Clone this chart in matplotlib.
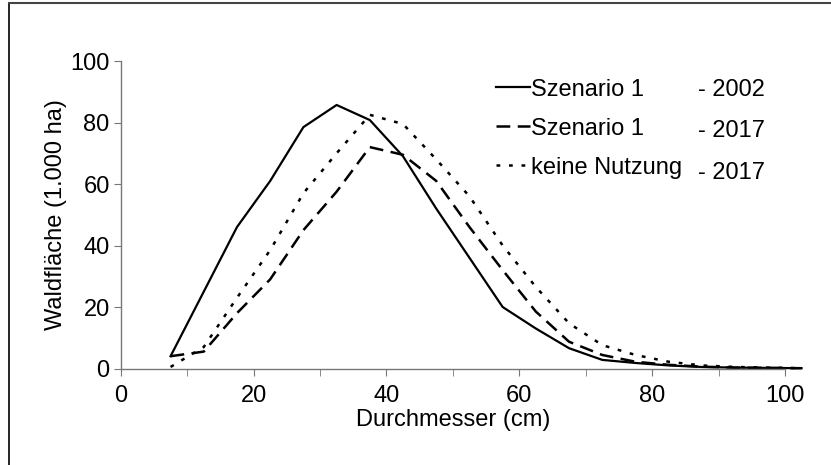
import matplotlib
matplotlib.use("Agg")
import matplotlib.pyplot as plt
from matplotlib.lines import Line2D

plt.rcParams["font.family"] = ["Liberation Sans", "DejaVu Sans"]

# Durchmesserklassen (cm), Klassenmitte
durchmesser = [7.5, 12.5, 17.5, 22.5, 27.5, 32.5, 37.5, 42.5, 47.5, 52.5,
               57.5, 62.5, 67.5, 72.5, 77.5, 82.5, 87.5, 92.5, 97.5, 102.5]

# Waldfläche (1.000 ha)
sz1_2002 = [4, 25, 46, 61, 78.5, 85.7, 80.8, 69, 52, 36, 20, 13, 6.6, 2.8, 1.8,
            1.0, 0.5, 0.3, 0.2, 0.1]
sz1_2017 = [4, 5.5, 18, 29, 45, 57.5, 72, 69.5, 61, 46, 32, 18.5, 8.7, 4.4, 2.2,
            1.2, 0.6, 0.3, 0.2, 0.1]
keine_2017 = [0.5, 7, 23, 38.5, 57, 70, 82.5, 79.5, 68, 56, 40, 26.5, 14.7, 7.6, 4.4,
              2.2, 1.0, 0.5, 0.3, 0.1]

labels = ["Szenario 1", "Szenario 1", "keine Nutzung"]
jahre = ["- 2002", "- 2017", "- 2017"]

fs = 17

fig = plt.figure(figsize=(8.31, 4.65), dpi=100)
ax = fig.add_axes([0.1453, 0.2075, 0.7993, 0.6613])

l1, = ax.plot(durchmesser, sz1_2002, color="black", lw=1.6, clip_on=False)
l2, = ax.plot(durchmesser, sz1_2017, color="black", lw=1.8, clip_on=False,
              dashes=(5.5, 3))
l3, = ax.plot(durchmesser, keine_2017, color="black", lw=1.8, clip_on=False,
              dashes=(1.5, 3.5))

ax.set_xlim(0, 100)
ax.set_ylim(0, 100)
ax.set_xticks(range(0, 101, 20))
ax.set_xticks(range(10, 100, 20), minor=True)
ax.set_yticks(range(0, 101, 20))

for s in ["top", "right"]:
    ax.spines[s].set_visible(False)
for s in ["left", "bottom"]:
    ax.spines[s].set_color("#777777")
    ax.spines[s].set_linewidth(1.0)
ax.tick_params(which="both", direction="out", length=5, color="#777777",
               labelsize=fs)
ax.tick_params(axis="x", pad=7)
ax.tick_params(axis="y", pad=3)

ax.set_xlabel("Durchmesser (cm)", fontsize=fs, labelpad=1)
ax.set_ylabel("Waldfläche (1.000 ha)", fontsize=fs, labelpad=2)

leg = ax.legend([l1, l2, l3], labels, loc="upper left",
                bbox_to_anchor=(0.565, 0.943), frameon=False, fontsize=fs,
                handlelength=1.45, handletextpad=0.05, labelspacing=0.72,
                borderaxespad=0, borderpad=0)
for i, j in enumerate(jahre):
    ax.text(0.869, 0.905 - i * 0.134, j, transform=ax.transAxes,
            fontsize=fs, va="center", ha="left")

# Rahmen oben und links
fig.add_artist(Line2D([0.011, 0.011], [0.0, 0.993], transform=fig.transFigure,
                      color="black", lw=1.2))
fig.add_artist(Line2D([0.011, 1.0], [0.993, 0.993], transform=fig.transFigure,
                      color="#444444", lw=1.5))

fig.savefig("out.png", dpi=100)
